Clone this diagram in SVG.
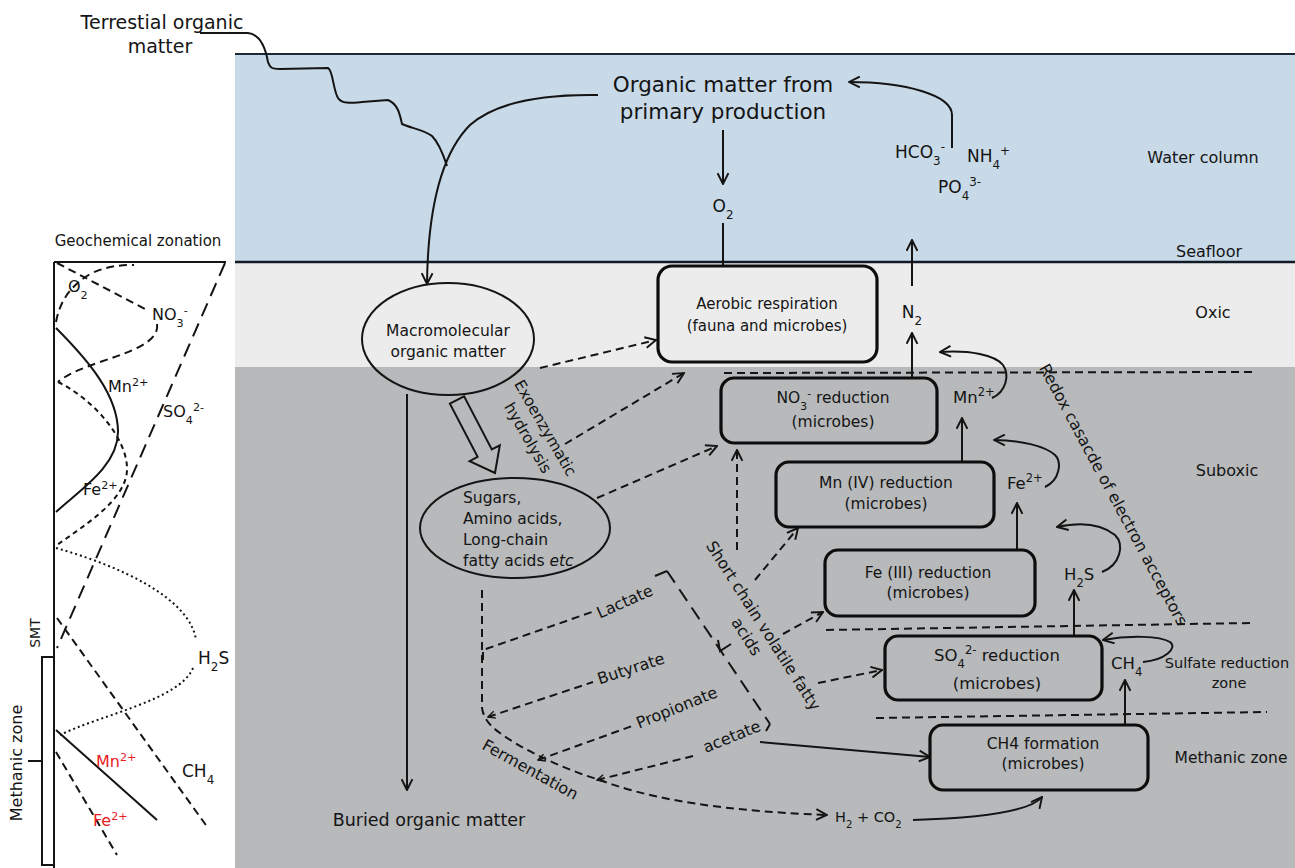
<svg xmlns="http://www.w3.org/2000/svg" width="1295" height="868" viewBox="0 0 1295 868">
<style>
svg{font-family:"DejaVu Sans","Liberation Sans",sans-serif;font-size:15.5px}
text{fill:#141414}
.c{text-anchor:middle}
.ln{fill:none;stroke:#141414;stroke-width:2}
.dash{fill:none;stroke:#141414;stroke-width:2;stroke-dasharray:8 5}
.ldash{fill:none;stroke:#141414;stroke-width:2;stroke-dasharray:14 8}
.dot{fill:none;stroke:#141414;stroke-width:2;stroke-dasharray:2 3}
.sdash{fill:none;stroke:#141414;stroke-width:2;stroke-dasharray:5 4}
.box{stroke:#0d0d0d;stroke-width:3.2}
.ell{fill:none;stroke:#141414;stroke-width:2}
.arr{marker-end:url(#ah)}
.sub{font-size:70%;baseline-shift:sub}
.sup{font-size:70%;baseline-shift:super}
.red{fill:#e8201f}
</style>
<defs>
<marker id="ah" viewBox="0 0 12 12" refX="11" refY="6" markerWidth="13" markerHeight="13" markerUnits="userSpaceOnUse" orient="auto"><path d="M1 1 L11 6 L1 11" fill="none" stroke="#141414" stroke-width="1.8"/></marker>
<marker id="cs" viewBox="0 0 10 10" refX="9" refY="5" markerWidth="9" markerHeight="9" markerUnits="userSpaceOnUse" orient="auto-start-reverse"><path d="M1 1 L9 5 L1 9" fill="none" stroke="#141414" stroke-width="1.6"/></marker>
</defs>
<rect width="1295" height="868" fill="#ffffff"/>
<!-- bands -->
<g id="bands">
<rect x="235" y="54" width="1060" height="208" fill="#c8d9e8"/>
<rect x="235" y="262" width="1060" height="105" fill="#ececec"/>
<rect x="235" y="367" width="1060" height="501" fill="#b7b9bb"/>
<line x1="235" y1="54" x2="1295" y2="54" stroke="#1b2836" stroke-width="2"/>
<line x1="235" y1="262" x2="1295" y2="262" stroke="#111b25" stroke-width="2.6"/>
</g>
<!-- left geochemical panel -->
<g id="geochem">
<text x="138" y="246" class="c" font-size="15">Geochemical zonation</text>
<path class="ln" d="M54 262 L54 868 M54 262 L226 262"/>
<path class="dash" d="M56 322 C 60 300, 72 284, 92 273 C 108 266, 120 265, 134 265"/>
<path class="dash" d="M57 263 L149 311 M157 324 C 160 342, 130 352, 100 362 C 80 369, 66 375, 58 382"/>
<path class="ln" d="M56 328 C 88 360, 118 395, 118 432 C 118 466, 80 490, 56 512"/>
<path class="sdash" d="M58 382 C 95 400, 128 440, 127 470 C 126 500, 85 525, 57 545"/>
<path class="ldash" d="M225 263 L57 648"/>
<path class="dot" d="M56 548 C 120 566, 190 598, 196 640 M193 668 C 180 700, 100 715, 60 735"/>
<path class="dash" d="M57 618 L208 828"/>
<path class="ln" d="M56 730 L157 820"/>
<path class="dash" d="M56 752 L117 855"/>
<path class="ln" d="M54 657 L42 657 L42 865 L54 865 M28 761 L42 761"/>
<text x="68" y="292" font-size="16">O<tspan class="sub">2</tspan></text>
<text x="152" y="320" font-size="16">NO<tspan class="sub">3</tspan><tspan class="sup">-</tspan></text>
<text x="108" y="392" font-size="16">Mn<tspan class="sup">2+</tspan></text>
<text x="163" y="417" font-size="16">SO<tspan class="sub">4</tspan><tspan class="sup">2-</tspan></text>
<text x="83" y="495" font-size="16">Fe<tspan class="sup">2+</tspan></text>
<text x="198" y="664" font-size="17">H<tspan class="sub">2</tspan>S</text>
<text x="182" y="777" font-size="17">CH<tspan class="sub">4</tspan></text>
<text x="96" y="767" class="red" font-size="16">Mn<tspan class="sup">2+</tspan></text>
<text x="93" y="826" class="red" font-size="16">Fe<tspan class="sup">2+</tspan></text>
<text transform="translate(40,633) rotate(-90)" class="c" font-size="14">SMT</text>
<text transform="translate(22,763) rotate(-90)" class="c" font-size="16">Methanic zone</text>
</g>
<!-- connectors -->
<g id="connectors">
<path class="ln" d="M200 33 L248 33 C 258 34, 265 45, 268 62 C 270 68, 272 69, 280 69 L 328 68 C 333 70, 333 90, 338 98 C 342 104, 350 103, 362 102 L 388 100 C 398 104, 400 115, 402 124 C 410 128, 425 130, 432 136 C 440 144, 445 160, 447 166"/>
<path class="ln arr" d="M598 95 C 540 94, 495 103, 470 125 C 445 150, 428 200, 427 284"/>
<path class="ln arr" d="M723 130 L723 184"/>
<path class="ln arr" d="M723 223 L723 288"/>
<path class="ln arr" d="M952 148 L952 115 C 952 95, 905 82, 849 82"/>
<path class="ln arr" d="M912 286 L912 240"/>
<path class="ln arr" d="M912 377 L912 333"/>
<path class="ln arr" d="M962 461 L962 418"/>
<path class="ln arr" d="M992 398 C 1006 392, 1010 375, 1003 365 C 995 355, 970 350, 940 352"/>
<path class="ln arr" d="M1017 549 L1017 503"/>
<path class="ln arr" d="M1045 487 C 1060 480, 1062 462, 1055 455 C 1045 446, 1020 440, 994 440"/>
<path class="ln arr" d="M1074 636 L1074 590"/>
<path class="ln arr" d="M1102 572 C 1120 565, 1125 545, 1115 535 C 1100 523, 1080 522, 1057 527"/>
<path class="ln arr" d="M1143 662 C 1165 660, 1178 648, 1170 642 C 1160 636, 1130 635, 1103 640"/>
<path class="ln arr" d="M1125 726 L1125 680"/>
<path class="ln arr" d="M760 742 L930 757"/>
<path class="ln arr" d="M913 820 C 980 818, 1030 812, 1042 797"/>
<path class="ln arr" d="M407 394 L407 790"/>
<path class="dash arr" d="M540 368 L656 340"/>
<path class="dash arr" d="M565 444 L684 373"/>
<path class="dash arr" d="M597 498 L717 446"/>
<path class="dash arr" d="M737 550 L737 450"/>
<path class="dash arr" d="M755 580 L798 528"/>
<path class="dash arr" d="M783 634 L823 612"/>
<path class="dash arr" d="M818 683 L882 670"/>
<path class="dash arr" d="M482 590 L482 708 Q 484 722, 500 733 C 520 748, 560 768, 600 780 C 640 795, 700 810, 827 815"/>
<path class="dash" d="M483 660 L483 650 L592 612"/>
<path class="dash" d="M488 717 L593 682" marker-start="url(#cs)"/>
<path class="dash" d="M538 760 L635 725" marker-start="url(#cs)"/>
<path class="dash" d="M597 780 L697 755" marker-start="url(#cs)"/>
<path class="ldash" d="M667 571 L770 724"/>
<path class="ln" d="M655 576 L667 571 M718 640 L720 651 L731 644 M770 724 L766 731"/>
<path class="dash" d="M724 373 L1255 372"/>
<path class="dash" d="M826 630 L1250 623"/>
<path class="dash" d="M876 718 L1267 712"/>
<polygon points="449.9,403.7 464.1,396.3 491.8,449.5 499.8,445.3 495,473 469.6,461.1 477.6,456.9" fill="none" stroke="#141414" stroke-width="2"/>
</g>
<!-- labels -->
<g id="labels">
<text x="162" y="29" class="c" font-size="19">Terrestial organic</text>
<text x="160" y="53" class="c" font-size="19">matter</text>
<text x="723" y="92" class="c" font-size="21.5">Organic matter from</text>
<text x="723" y="119" class="c" font-size="21.5">primary production</text>
<text x="723" y="212" class="c" font-size="17">O<tspan class="sub">2</tspan></text>
<text x="895" y="158" font-size="17">HCO<tspan class="sub">3</tspan><tspan class="sup">-</tspan></text>
<text x="967" y="162" font-size="17">NH<tspan class="sub">4</tspan><tspan class="sup">+</tspan></text>
<text x="938" y="193" font-size="17">PO<tspan class="sub">4</tspan><tspan class="sup">3-</tspan></text>
<text x="912" y="318" class="c" font-size="17">N<tspan class="sub">2</tspan></text>
<text x="953" y="403" font-size="16.5">Mn<tspan class="sup">2+</tspan></text>
<text x="1007" y="489" font-size="16.5">Fe<tspan class="sup">2+</tspan></text>
<text x="1064" y="580" font-size="16.5">H<tspan class="sub">2</tspan>S</text>
<text x="1111" y="669" font-size="16.5">CH<tspan class="sub">4</tspan></text>
<text x="835" y="822" font-size="14.5">H<tspan class="sub">2</tspan> + CO<tspan class="sub">2</tspan></text>
<text x="1203" y="163" class="c" font-size="16">Water column</text>
<text x="1209" y="257" class="c" font-size="16">Seafloor</text>
<text x="1213" y="318" class="c" font-size="16">Oxic</text>
<text x="1227" y="476" class="c" font-size="16">Suboxic</text>
<text x="1227" y="668" class="c" font-size="14.5">Sulfate reduction</text>
<text x="1229" y="688" class="c" font-size="14.5">zone</text>
<text x="1231" y="763" class="c" font-size="15.5">Methanic zone</text>
<text x="429" y="826" class="c" font-size="17.5">Buried organic matter</text>
<text transform="translate(545,428) rotate(60)" class="c" font-size="15.5"><tspan x="0" y="5">Exoenzymatic</tspan><tspan x="0" y="25">hydrolysis</tspan></text>
<text transform="translate(1113,495) rotate(61.7)" class="c" font-size="16"><tspan x="0" y="5">Redox casacde of electron acceptors</tspan></text>
<text transform="translate(763,626) rotate(57.4)" class="c" font-size="16"><tspan x="0" y="5">Short chain volatile fatty</tspan><tspan x="0" y="25">acids</tspan></text>
<text transform="translate(530,770) rotate(29)" class="c" font-size="16"><tspan x="0" y="5">Fermentation</tspan></text>
<text transform="translate(625,602) rotate(-24)" class="c" font-size="16"><tspan x="0" y="5">Lactate</tspan></text>
<text transform="translate(631,669) rotate(-18)" class="c" font-size="16"><tspan x="0" y="5">Butyrate</tspan></text>
<text transform="translate(677,708) rotate(-22)" class="c" font-size="16"><tspan x="0" y="5">Propionate</tspan></text>
<text transform="translate(732,737) rotate(-22)" class="c" font-size="16"><tspan x="0" y="5">acetate</tspan></text>
</g>
<!-- nodes -->
<g id="macromolecular">
<ellipse class="ell" cx="448" cy="339" rx="86" ry="56"/>
<text x="448" y="336" class="c" font-size="15.5">Macromolecular</text>
<text x="448" y="357" class="c" font-size="15.5">organic matter</text>
</g>
<g id="sugars">
<ellipse class="ell" cx="515" cy="528" rx="95" ry="50"/>
<text x="463" y="503" font-size="15.5">Sugars,</text>
<text x="463" y="524" font-size="15.5">Amino acids,</text>
<text x="463" y="545" font-size="15.5">Long-chain</text>
<text x="463" y="566" font-size="15.5">fatty acids <tspan font-style="italic">etc</tspan></text>
</g>
<g id="aerobic">
<rect class="box" x="658" y="266" width="219" height="96" rx="14" fill="#ececec"/>
<text x="767" y="309" class="c" font-size="15">Aerobic respiration</text>
<text x="767" y="331" class="c" font-size="15">(fauna and microbes)</text>
</g>
<g id="no3">
<rect class="box" x="721" y="378" width="216" height="65" rx="13" fill="#b7b9bb"/>
<text x="833" y="403" class="c" font-size="15.5">NO<tspan class="sub">3</tspan><tspan class="sup">-</tspan> reduction</text>
<text x="833" y="427" class="c" font-size="15.5">(microbes)</text>
</g>
<g id="mn">
<rect class="box" x="776" y="462" width="218" height="65" rx="13" fill="#b7b9bb"/>
<text x="886" y="488" class="c" font-size="15.5">Mn (IV) reduction</text>
<text x="886" y="509" class="c" font-size="15.5">(microbes)</text>
</g>
<g id="fe">
<rect class="box" x="825" y="550" width="210" height="66" rx="13" fill="#b7b9bb"/>
<text x="928" y="578" class="c" font-size="15.5">Fe (III) reduction</text>
<text x="928" y="598" class="c" font-size="15.5">(microbes)</text>
</g>
<g id="so4">
<rect class="box" x="885" y="636" width="217" height="64" rx="13" fill="#b7b9bb"/>
<text x="997" y="661" class="c" font-size="16.5">SO<tspan class="sub">4</tspan><tspan class="sup">2-</tspan> reduction</text>
<text x="997" y="689" class="c" font-size="16.5">(microbes)</text>
</g>
<g id="ch4">
<rect class="box" x="930" y="725" width="218" height="65" rx="13" fill="#b7b9bb"/>
<text x="1043" y="749" class="c" font-size="15.5">CH4 formation</text>
<text x="1043" y="769" class="c" font-size="15.5">(microbes)</text>
</g>
</svg>
